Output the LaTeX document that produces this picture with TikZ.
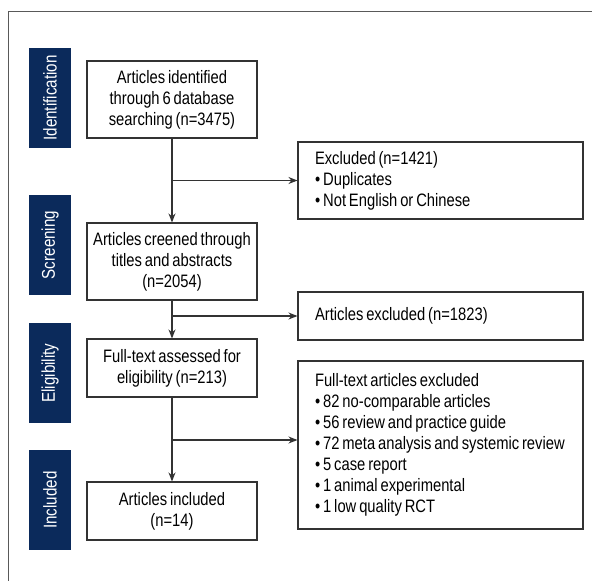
\documentclass[tikz,border=0pt]{standalone}
\usepackage{fontspec}
\setmainfont{Liberation Sans}[FakeStretch=0.82, WordSpace=0.7]
\usetikzlibrary{arrows.meta}

\definecolor{stagenavy}{HTML}{0B2A5B}
\definecolor{lineclr}{HTML}{333333}

\newcommand{\pt}{\textbullet\kern3pt}

\tikzset{
    stage/.style={fill=stagenavy, text=white, rotate=90, minimum width=100pt, minimum height=42pt, inner sep=0pt, font=\fontsize{18.5}{22}\selectfont},
    mainbox/.style={draw=lineclr, line width=1.1pt, minimum width=170pt, align=center, inner sep=0pt, font=\fontsize{18}{21}\selectfont},
    sidebox/.style={draw=lineclr, line width=1.1pt, minimum width=285pt, text width=251pt, align=flush left, inner sep=0pt, inner xsep=17pt, font=\fontsize{18}{21}\selectfont},
    flow/.style={draw=lineclr, line width=1.1pt, -{Stealth[length=9pt, width=7pt]}}
}

\begin{document}
\begin{tikzpicture}[x=1pt, y=-1pt]
    \useasboundingbox (0,0) rectangle (592,581);
    % frame
    \draw[line width=1pt, color=black!65] (592,11) -- (8,11) -- (8,581);

    % stages
    \node[stage] (ident) at (50,98) {Identification};
    \node[stage] (screen) at (50,245) {Screening};
    \node[stage] (elig) at (50,373) {Eligibility};
    \node[stage] (incl) at (50,500) {Included};

    % main column
    \node[mainbox, minimum height=77pt] (found) at (172,99.5) {Articles identified\\through 6 database\\searching (n=3475)};
    \node[mainbox, minimum height=77pt] (screened) at (172,261.5) {Articles creened through\\titles and abstracts\\(n=2054)};
    \node[mainbox, minimum height=58pt] (fulltext) at (172,368) {Full-text assessed for\\eligibility (n=213)};
    \node[mainbox, minimum height=58pt] (included) at (172,511) {Articles included\\(n=14)};

    % exclusions
    \node[sidebox, minimum height=77pt] (excl1) at (440.5,180.5) {Excluded (n=1421)\\\pt Duplicates\\\pt Not English or Chinese};
    \node[sidebox, minimum height=48pt] (excl2) at (440.5,316) {Articles excluded (n=1823)};
    \node[sidebox, minimum height=168pt] (excl3) at (440.5,445) {Full-text articles excluded\\\pt 82 no-comparable articles\\\pt 56 review and practice guide\\\pt 72 meta analysis and systemic review\\\pt 5 case report\\\pt 1 animal experimental\\\pt 1 low quality RCT};

    \draw[flow] (found) -- (screened);
    \draw[flow] (screened) -- (fulltext);
    \draw[flow] (fulltext) -- (included);

    \draw[flow] (found.south |- excl1.west) -- (excl1.west);
    \draw[flow] (screened.south |- excl2.west) -- (excl2.west);
    \draw[flow] (fulltext.south |- 0,440) -- (excl3.west |- 0,440);
\end{tikzpicture}
\end{document}
